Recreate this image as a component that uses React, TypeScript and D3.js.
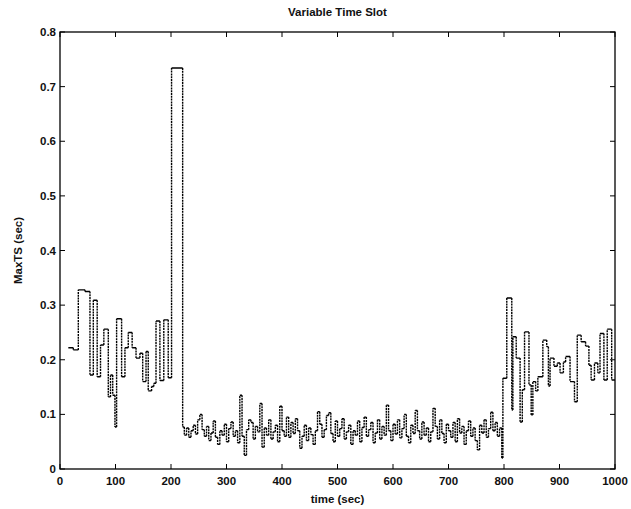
import React from "react";
import * as d3 from "d3";

// step start times (sec) and MaxTS values (sec)
const startTimes: number[] = [
  15, 24, 33, 45, 54, 60, 67, 73, 79, 87, 91, 95, 99, 102, 111, 117, 123, 130, 137, 144, 149, 155, 159, 165, 169, 173, 180, 187, 195, 201, 221,
];
const startValues: number[] = [
  0.222, 0.218, 0.328, 0.325, 0.172, 0.309, 0.169, 0.227, 0.256, 0.132, 0.172, 0.135, 0.077, 0.275, 0.169, 0.222, 0.25, 0.222, 0.203, 0.212, 0.16, 0.215, 0.143, 0.151, 0.157, 0.271, 0.162, 0.273, 0.167, 0.734, 0.077,
];

const midStart = 224;
const midStep = 4;
const midValues: number[] = [
  0.062, 0.075, 0.058, 0.07, 0.08, 0.064, 0.09, 0.1, 0.072, 0.06,
  0.078, 0.052, 0.066, 0.088, 0.058, 0.045, 0.07, 0.062, 0.082, 0.05,
  0.074, 0.086, 0.06, 0.07, 0.048, 0.135, 0.06, 0.025, 0.072, 0.09,
  0.085, 0.055, 0.078, 0.068, 0.12, 0.04, 0.075, 0.062, 0.09, 0.055,
  0.068, 0.08, 0.05, 0.115, 0.07, 0.06, 0.095, 0.058, 0.085, 0.065,
  0.092, 0.07, 0.038, 0.06, 0.08, 0.052, 0.075, 0.063, 0.045, 0.07,
  0.105, 0.082, 0.058, 0.072, 0.098, 0.103, 0.065, 0.05, 0.088, 0.06,
  0.074, 0.092, 0.055, 0.068, 0.08, 0.045, 0.07, 0.062, 0.088, 0.05,
  0.076, 0.095, 0.06, 0.072, 0.085, 0.048, 0.066, 0.09, 0.055, 0.078,
  0.062, 0.117, 0.07, 0.052, 0.082, 0.064, 0.09, 0.057, 0.074, 0.1,
  0.06, 0.048, 0.08, 0.065, 0.107, 0.07, 0.055, 0.086, 0.062, 0.075,
  0.05, 0.068, 0.111, 0.078, 0.055, 0.09, 0.065, 0.048, 0.082, 0.07,
  0.058, 0.085, 0.05, 0.092, 0.066, 0.078, 0.045, 0.07, 0.088, 0.06,
  0.075, 0.052, 0.035, 0.08, 0.066, 0.09, 0.058, 0.074, 0.104, 0.07,
  0.085, 0.06, 0.075, 0.02,
];

const endTimes: number[] = [
  798, 805, 814, 816, 822, 829, 833, 837, 845, 849, 852, 857, 861, 870, 877, 880, 883, 890, 896, 901, 907, 911, 919, 927, 932, 939, 947, 953, 957, 963, 969, 973, 980, 986, 994,
];
const endValues: number[] = [
  0.166, 0.313, 0.108, 0.242, 0.203, 0.086, 0.145, 0.251, 0.154, 0.099, 0.16, 0.143, 0.169, 0.236, 0.224, 0.152, 0.203, 0.188, 0.194, 0.176, 0.196, 0.206, 0.16, 0.123, 0.245, 0.233, 0.225, 0.19, 0.163, 0.194, 0.176, 0.248, 0.163, 0.256, 0.163,
];
const lastTime = 1000;

const xTicks: number[] = [0, 100, 200, 300, 400, 500, 600, 700, 800, 900, 1000];
const yTicks: number[] = [0, 0.1, 0.2, 0.3, 0.4, 0.5, 0.6, 0.7, 0.8];

const title = "Variable Time Slot";
const xLabel = "time (sec)";
const yLabel = "MaxTS (sec)";

export default function App() {
  const W = 631, H = 509;
  const L = 60, R = 615, T = 32, B = 469;
  const x = d3.scaleLinear().domain([0, 1000]).range([L, R]);
  const y = d3.scaleLinear().domain([0, 0.8]).range([B, T]);

  const times: number[] = [...startTimes];
  const vals: number[] = [...startValues];
  midValues.forEach((v, i) => { times.push(midStart + i * midStep); vals.push(v); });
  endTimes.forEach((t, i) => { times.push(t); vals.push(endValues[i]); });

  let hPath = "";
  let vPath = "";
  for (let i = 0; i < times.length; i++) {
    const t0 = times[i];
    const t1 = i + 1 < times.length ? times[i + 1] : lastTime;
    hPath += `M${x(t0)},${y(vals[i])}H${x(t1)}`;
    if (i + 1 < times.length) {
      vPath += `M${x(t1)},${y(vals[i])}V${y(vals[i + 1])}`;
    }
  }

  const font = "'Liberation Sans', Arial, sans-serif";
  const tl = 5;

  return (
    <svg width={W} height={H} style={{ position: "absolute", left: 0, top: 0, background: "#fff" }}>
      <rect x={0} y={0} width={W} height={H} fill="#fff" />
      <rect x={L} y={T} width={R - L} height={B - T} fill="none" stroke="#000" strokeWidth={1.3} />
      {xTicks.map((t) => (
        <g key={"xt" + t}>
          <line x1={x(t)} x2={x(t)} y1={B} y2={B - tl} stroke="#000" strokeWidth={1} />
          <line x1={x(t)} x2={x(t)} y1={T} y2={T + tl} stroke="#000" strokeWidth={1} />
          <text x={x(t)} y={B + 16} textAnchor="middle" fontFamily={font} fontSize={11.5} fontWeight="bold" fill="#111">{t}</text>
        </g>
      ))}
      {yTicks.map((v) => (
        <g key={"yt" + v}>
          <line x1={L} x2={L + tl} y1={y(v)} y2={y(v)} stroke="#000" strokeWidth={1} />
          <line x1={R} x2={R - tl} y1={y(v)} y2={y(v)} stroke="#000" strokeWidth={1} />
          <text x={L - 4} y={y(v) + 4} textAnchor="end" fontFamily={font} fontSize={11.5} fontWeight="bold" fill="#111">{v === 0 ? "0" : v.toFixed(1)}</text>
        </g>
      ))}
      <path d={vPath} fill="none" stroke="#000" strokeWidth={1.4} strokeDasharray="2,0.8" />
      <path d={hPath} fill="none" stroke="#000" strokeWidth={1.4} />
      <text x={(L + R) / 2} y={16} textAnchor="middle" fontFamily={font} fontSize={11.5} fontWeight="bold" fill="#111">{title}</text>
      <text x={(L + R) / 2} y={503} textAnchor="middle" fontFamily={font} fontSize={11.5} fontWeight="bold" fill="#111">{xLabel}</text>
      <text transform={`translate(22,${(T + B) / 2}) rotate(-90)`} textAnchor="middle" fontFamily={font} fontSize={11.5} fontWeight="bold" fill="#111">{yLabel}</text>
    </svg>
  );
}
